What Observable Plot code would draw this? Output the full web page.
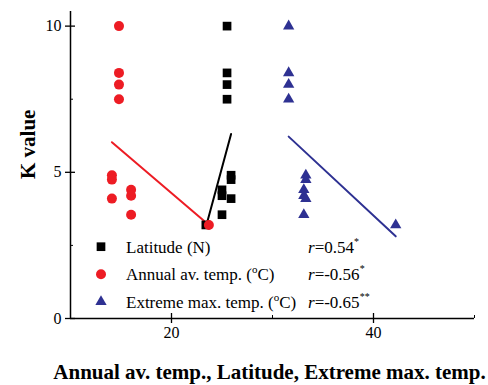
<!DOCTYPE html>
<html><head><meta charset="utf-8">
<script src="https://cdn.jsdelivr.net/npm/d3@7"></script>
<script src="https://cdn.jsdelivr.net/npm/@observablehq/plot@0.6"></script>
<style>body{margin:0;background:#fff}</style>
</head><body><div id="chart"></div>
<script>
// ---- data ----
const xDomain = [10, 50];
const yDomain = [0, 10.5];
const xMajorTicks = [20, 40];
const xMinorTicks = [30, 50];
const yMajorTicks = [0, 5, 10];
const yMinorTicks = [2.5, 7.5];

const kValues   = [10, 8.4, 8.0, 7.5, 4.9, 4.75, 4.4, 4.2, 4.1, 3.55, 3.2];
const latitudeX = [25.5, 25.5, 25.5, 25.5, 25.9, 25.9, 25.0, 25.0, 25.9, 25.0, 23.4];
const annualX   = [14.8, 14.8, 14.8, 14.8, 14.1, 14.1, 16.0, 16.0, 14.1, 16.0, 23.7];
const extremeX  = [31.6, 31.6, 31.6, 31.6, 33.3, 33.3, 33.1, 33.1, 33.3, 33.1, 42.2];

// fitted line endpoints [x, y]
const latitudeFit = [[23.4, 3.12], [25.9, 6.31]];
const annualFit   = [[14.1, 6.03], [23.7, 3.2]];
const extremeFit  = [[31.6, 6.22], [42.2, 2.81]];

const seriesNames = ["Latitude (N)", "Annual av. temp. (oC)", "Extreme max. temp. (oC)"];
const rValues = ["0.54", "-0.56", "-0.65"];
const rStars  = ["*", "*", "**"];
const xTitle = "Annual av. temp., Latitude, Extreme max. temp.";
const yTitle = "K value";

// ---- styles ----
const RED = "#ED1C24", BLUE = "#2E3192", BLACK = "#000";
const FONT = "'Liberation Serif', 'Times New Roman', serif";
const rSquare = 4.9, rCircle = 5, rTri = 4.2;

const toRows = (xs) => xs.map((x, i) => ({x, y: kValues[i]}));
const toFit = (pts) => pts.map(([x, y]) => ({x, y}));

const chart = Plot.plot({
  width: 488, height: 385,
  marginLeft: 70, marginRight: 14, marginTop: 11, marginBottom: 67,
  style: {fontFamily: FONT, fontSize: "16px", background: "#fff", color: "#000", overflow: "visible"},
  x: {domain: xDomain},
  y: {domain: yDomain},
  marks: [
    Plot.ruleX([xDomain[0]], {y1: yDomain[0], y2: yDomain[1], stroke: BLACK, strokeWidth: 1.5}),
    Plot.ruleY([yDomain[0]], {x1: xDomain[0], x2: xDomain[1], stroke: BLACK, strokeWidth: 1.5}),
    Plot.axisY({ticks: yMajorTicks, tickSize: 0, tickPadding: 9, fontSize: 16, label: null}),
    Plot.axisY({ticks: yMajorTicks, tickSize: 10, dx: 5, text: null, label: null, strokeWidth: 1.3}),
    Plot.axisY({ticks: yMinorTicks, tickSize: 3, dx: 3, text: null, label: null}),
    Plot.axisX({ticks: xMajorTicks, tickSize: 0, tickPadding: 8, fontSize: 16, label: null}),
    Plot.axisX({ticks: xMajorTicks, tickSize: 10, dy: -5, text: null, label: null, strokeWidth: 1.3}),
    Plot.axisX({ticks: xMinorTicks, tickSize: 3, dy: -3, text: null, label: null}),
    Plot.line(toFit(annualFit), {x: "x", y: "y", stroke: RED, strokeWidth: 2}),
    Plot.line(toFit(latitudeFit), {x: "x", y: "y", stroke: BLACK, strokeWidth: 2}),
    Plot.line(toFit(extremeFit), {x: "x", y: "y", stroke: BLUE, strokeWidth: 2}),
    Plot.dot(toRows(latitudeX), {x: "x", y: "y", symbol: "square", r: rSquare, fill: BLACK, stroke: null}),
    Plot.dot(toRows(annualX), {x: "x", y: "y", symbol: "circle", r: rCircle, fill: RED, stroke: null}),
    Plot.dot(toRows(extremeX), {x: "x", y: "y", symbol: "triangle", r: rTri, fill: BLUE, stroke: null}),
    Plot.text([yTitle], {text: d => d, frameAnchor: "left", dx: -42, dy: 14, rotate: -90, fontSize: 21, fontWeight: "bold", fill: BLACK}),
    Plot.text([xTitle], {text: d => d, frameAnchor: "bottom", dx: -3, dy: 54, lineAnchor: "middle", fontSize: 21, fontWeight: "bold", fill: BLACK})
  ]
});
document.getElementById("chart").appendChild(chart);

// ---- legend (inside plot) ----
const svg = d3.select(chart);
const legendRowsY = [246.7, 274.3, 301.7];
const legendSymX = 101, legendTextX = 126, legendRX = 308;
const legendSymbols = [
  {type: d3.symbolSquare, r: rSquare, fill: BLACK},
  {type: d3.symbolCircle, r: rCircle, fill: RED},
  {type: d3.symbolTriangle, r: rTri, fill: BLUE}
];
const g = svg.append("g")
  .attr("font-family", FONT).attr("font-size", 17)
  .attr("fill", "#000").attr("text-anchor", "start");
legendRowsY.forEach((y, i) => {
  const s = legendSymbols[i];
  const gen = d3.symbol().type(s.type).size(Math.PI * s.r * s.r);
  g.append("path")
    .attr("d", gen())
    .attr("transform", `translate(${legendSymX},${y})`)
    .attr("fill", s.fill).attr("stroke", "none");
  const t = g.append("text").attr("x", legendTextX).attr("y", y).attr("dy", "0.35em").attr("text-anchor", "start");
  const name = seriesNames[i];
  const m = name.indexOf("(oC)");
  if (m < 0) {
    t.append("tspan").text(name);
  } else {
    t.append("tspan").text(name.slice(0, m + 1));
    t.append("tspan").attr("font-size", 11).attr("dy", -7).text("o");
    t.append("tspan").attr("dy", 7).text("C)");
  }
  const rt = g.append("text").attr("x", legendRX).attr("y", y).attr("dy", "0.35em").attr("text-anchor", "start");
  rt.append("tspan").attr("font-style", "italic").text("r");
  rt.append("tspan").text("=" + rValues[i]);
  rt.append("tspan").attr("font-size", 10).attr("dy", -8).text(rStars[i]);
});
</script>
</body></html>
